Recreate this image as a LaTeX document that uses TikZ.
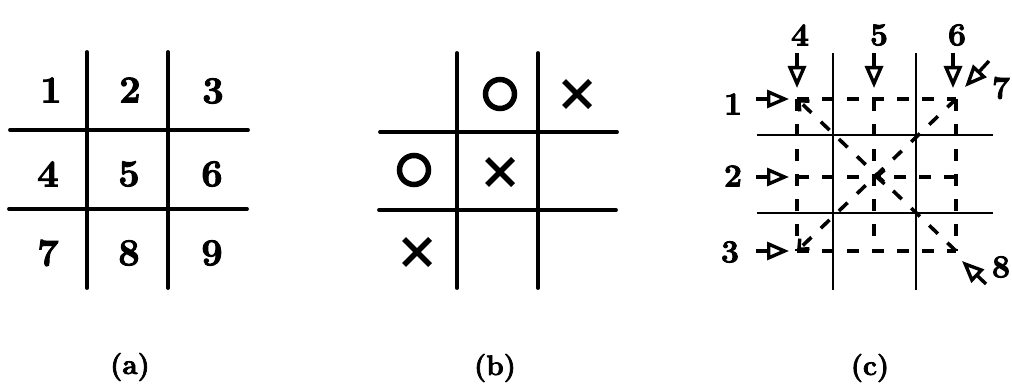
\documentclass[tikz,border=0pt]{standalone}
\usepackage{fontspec}
\newfontfamily\labfont{Latin Modern Roman}[FakeBold=2.6]
\usetikzlibrary{arrows.meta}
\begin{document}
\begin{tikzpicture}[x=1pt,y=-1pt,
  gridA/.style={line width=3.8pt,line cap=round},
  gridC/.style={line width=2.4pt},
  numA/.style={inner sep=0pt,font=\labfont\bfseries\fontsize{38}{38}\selectfont},
  numC/.style={inner sep=0pt,font=\labfont\bfseries\fontsize{32}{32}\selectfont},
  captext/.style={inner sep=0pt,font=\labfont\bfseries\fontsize{28}{28}\selectfont},
  omark/.style={draw,circle,line width=5.5pt,minimum size=29pt,inner sep=0pt},
  xmark/.style={line width=5.5pt},
  dsh/.style={line width=3.6pt,dash pattern=on 12pt off 13pt},
  inarrow/.style={line width=3.4pt,-{Triangle[open,length=22pt,width=18pt,line width=3.4pt]}},
  barb/.style={-{Straight Barb[length=8pt,width=14pt,line width=3.4pt]}}
]
\useasboundingbox (0,0) rectangle (1012,385);

% ---------- (a) ----------
\draw[gridA] (87,52) -- (87,288);
\draw[gridA] (168,52) -- (168,288);
\draw[gridA] (10,130) -- (248,130);
\draw[gridA] (9,209) -- (247,209);
\node[numA] (a1) at (51,90) {1};
\node[numA] (a2) at (130,90) {2};
\node[numA] (a3) at (213,91) {3};
\node[numA] (a4) at (48,174) {4};
\node[numA] (a5) at (129,174) {5};
\node[numA] (a6) at (212,174) {6};
\node[numA] (a7) at (48,253) {7};
\node[numA] (a8) at (129,253) {8};
\node[numA] (a9) at (212,253) {9};
\node[captext] (capa) at (130,367) {(a)};

% ---------- (b) ----------
\draw[gridA] (457,53) -- (457,288);
\draw[gridA] (538,53) -- (538,288);
\draw[gridA] (380,132) -- (617,132);
\draw[gridA] (379,210) -- (616,210);
\node[omark] (o1) at (500,94) {};
\node[omark] (o2) at (414,170) {};
\coordinate (x1) at (577,94);
\coordinate (x2) at (500,172);
\coordinate (x3) at (417,252);
\foreach \c in {x1,x2,x3}{
  \draw[xmark] ([shift={(-13,-13)}]\c) -- ([shift={(13,13)}]\c);
  \draw[xmark] ([shift={(-13,13)}]\c) -- ([shift={(13,-13)}]\c);
}
\node[captext] (capb) at (495,368) {(b)};

% ---------- (c) ----------
\draw[gridC] (833,53) -- (833,290);
\draw[gridC] (916,53) -- (916,290);
\draw[gridC] (757,135) -- (993,135);
\draw[gridC] (757,213) -- (993,213);

\coordinate (tl) at (797,99);
\coordinate (tm) at (874,99);
\coordinate (tr) at (956,99);
\coordinate (ml) at (797,177);
\coordinate (mm) at (874,177);
\coordinate (mr) at (956,177);
\coordinate (bl) at (797,251);
\coordinate (bm) at (874,251);
\coordinate (br) at (956,251);

\draw[dsh] (tl) -- (tr);
\draw[dsh] (bl) -- (br);
\draw[dsh] (ml) -- (mm);
\draw[dsh,barb] (mr) -- (mm);
\draw[dsh] (tl) -- (bl);
\draw[dsh] (tm) -- (bm);
\draw[dsh] (tr) -- (br);
\draw[dsh,barb] (tr) -- (bl);
\draw[dsh,barb] (br) -- (tl);

\node[numC] (c1) at (733,104) {1};
\node[numC] (c2) at (733,176) {2};
\node[numC] (c3) at (730,252) {3};
\node[numC] (c4) at (800,35) {4};
\node[numC] (c5) at (879,35) {5};
\node[numC] (c6) at (957,35) {6};
\node[numC] (c7) at (1001,88) {7};
\node[numC] (c8) at (1001,267) {8};

\coordinate (s1) at (756,99);
\coordinate (e1) at (789,99);
\coordinate (s2) at (756,177);
\coordinate (e2) at (789,177);
\coordinate (s3) at (756,251);
\coordinate (e3) at (789,251);
\coordinate (s4) at (797,53);
\coordinate (e4) at (797,88);
\coordinate (s5) at (874,53);
\coordinate (e5) at (874,88);
\coordinate (s6) at (953,53);
\coordinate (e6) at (953,88);
\coordinate (s7) at (989,61);
\coordinate (e7) at (965,87);
\coordinate (s8) at (986,284);
\coordinate (e8) at (962,261);

\foreach \i in {1,...,8}{
  \draw[inarrow] (s\i) -- (e\i);
}
\node[captext] (capc) at (870,368) {(c)};
\end{tikzpicture}
\end{document}
